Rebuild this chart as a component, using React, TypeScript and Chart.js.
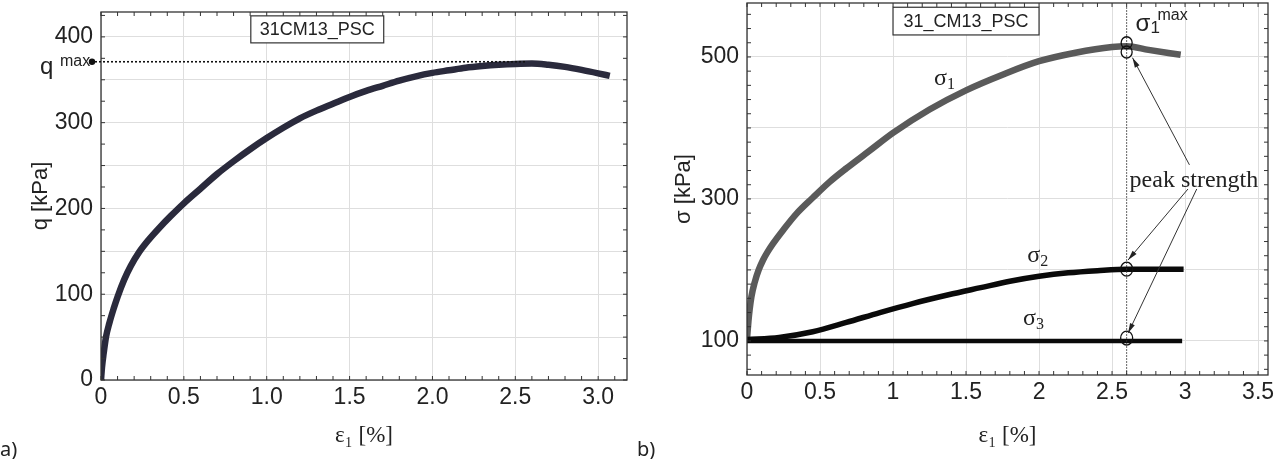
import React, { useEffect, useRef } from "react";
import { Chart, registerables } from "chart.js";

Chart.register(...registerables);

// a) deviator stress q against axial strain
const qStrain = [0, 0.006, 0.016, 0.03, 0.05, 0.076, 0.1, 0.14, 0.18, 0.23, 0.29, 0.35, 0.42, 0.5, 0.6, 0.7, 0.8, 0.9, 1.0, 1.1, 1.2, 1.3, 1.4, 1.5, 1.6, 1.7, 1.8, 1.9, 2.0, 2.1, 2.2, 2.3, 2.4, 2.5, 2.6, 2.7, 2.8, 2.9, 3.0, 3.07];
const qValues = [0, 15, 31, 50, 66, 83, 97, 117, 133, 149, 164, 177, 191, 206, 223, 240, 255, 269, 282, 294, 305, 314, 322, 330, 337, 343, 349, 354, 358, 361, 364, 366, 367.5, 368.5, 369, 367.5, 365, 361.5, 357.5, 354.5];
const qMax = 371;
const qMaxStrainEnd = 2.57;

// b) principal stresses against axial strain
const sig1Strain = [0, 0.01, 0.018, 0.03, 0.052, 0.08, 0.11, 0.14, 0.178, 0.247, 0.338, 0.452, 0.566, 0.68, 0.84, 1.0, 1.25, 1.5, 1.75, 2.0, 2.25, 2.5, 2.6, 2.75, 2.97];
const sig1Values = [103, 128, 144, 162, 182, 200, 214, 225, 237, 256, 279, 302, 324, 343, 368, 393, 426, 453, 475, 494, 506, 514, 515, 510, 503];
const sig2Strain = [0, 0.22, 0.45, 0.68, 0.91, 1.14, 1.38, 1.6, 1.8, 2.0, 2.2, 2.4, 2.6, 2.8, 2.99];
const sig2Values = [102, 105, 113, 126, 140, 153, 165, 175, 184, 191, 196, 199, 201, 201, 201];
const sig3Strain = [0, 1.0, 2.0, 2.98];
const sig3Values = [100, 100, 100, 100];
const peakStrain = 2.6;
const peakMarks = [520, 507, 201, 104];

// axes
const leftXTicks = [0, 0.5, 1.0, 1.5, 2.0, 2.5, 3.0];
const leftXLabels = ["0", "0.5", "1.0", "1.5", "2.0", "2.5", "3.0"];
const leftYGrid = [0, 50, 100, 150, 200, 250, 300, 350, 400];
const leftYLabels = [0, 100, 200, 300, 400];
const rightXTicks = [0, 0.5, 1, 1.5, 2, 2.5, 3, 3.5];
const rightXLabels = ["0", "0.5", "1", "1.5", "2", "2.5", "3", "3.5"];
const rightYGrid = [100, 200, 300, 400, 500];
const rightYLabels = [100, 300, 500];

const sans = "'Liberation Sans', Arial, sans-serif";
const serif = "'Liberation Serif', 'Times New Roman', serif";
const ink = "#222";

const pts = (xs: number[], ys: number[]) => xs.map((x, i) => ({ x, y: ys[i] }));

function arrow(ctx: CanvasRenderingContext2D, x0: number, y0: number, x1: number, y1: number) {
  ctx.beginPath();
  ctx.moveTo(x0, y0);
  ctx.lineTo(x1, y1);
  ctx.stroke();
  const a = Math.atan2(y1 - y0, x1 - x0);
  const len = 10, w = 2.6;
  const bx = x1 - len * Math.cos(a), by = y1 - len * Math.sin(a);
  ctx.beginPath();
  ctx.moveTo(x1, y1);
  ctx.lineTo(bx + w * Math.sin(a), by - w * Math.cos(a));
  ctx.lineTo(bx - w * Math.sin(a), by + w * Math.cos(a));
  ctx.closePath();
  ctx.fill();
}

// full box round the plot with small inward ticks
const framePlugin = (stepX: number, stepY: number) => ({
  id: "frame",
  afterDatasetsDraw(chart: any) {
    const { ctx, chartArea: a, scales } = chart;
    const sx = scales.x, sy = scales.y;
    ctx.save();
    ctx.strokeStyle = "#333";
    ctx.lineWidth = 1;
    ctx.beginPath();
    for (let v = 0; v <= sx.max + 1e-9; v += stepX) {
      const p = sx.getPixelForValue(v);
      ctx.moveTo(p, a.bottom); ctx.lineTo(p, a.bottom - 4);
      ctx.moveTo(p, a.top); ctx.lineTo(p, a.top + 4);
    }
    for (let v = Math.ceil(sy.min / stepY) * stepY; v <= sy.max; v += stepY) {
      const p = sy.getPixelForValue(v);
      ctx.moveTo(a.left, p); ctx.lineTo(a.left + 4, p);
      ctx.moveTo(a.right, p); ctx.lineTo(a.right - 4, p);
    }
    ctx.stroke();
    ctx.lineWidth = 1.3;
    ctx.strokeRect(a.left, a.top, a.right - a.left, a.bottom - a.top);
    ctx.restore();
  },
});

function labelBox(ctx: CanvasRenderingContext2D, x0: number, y0: number, x1: number, y1: number, text: string) {
  ctx.fillStyle = "#fff";
  ctx.fillRect(x0, y0, x1 - x0, y1 - y0);
  ctx.strokeStyle = "#333";
  ctx.lineWidth = 1.2;
  ctx.strokeRect(x0, y0, x1 - x0, y1 - y0);
  ctx.fillStyle = ink;
  ctx.font = `18px ${sans}`;
  ctx.textAlign = "center";
  ctx.textBaseline = "middle";
  ctx.fillText(text, (x0 + x1) / 2, (y0 + y1) / 2 + 1);
}

const leftNotes = {
  id: "leftNotes",
  afterDraw(chart: any) {
    const { ctx, chartArea: a, scales } = chart;
    const sx = scales.x, sy = scales.y;
    ctx.save();
    labelBox(ctx, sx.getPixelForValue(0.904), sy.getPixelForValue(424.5), sx.getPixelForValue(1.706), sy.getPixelForValue(393), "31CM13_PSC");
    const yq = sy.getPixelForValue(qMax);
    ctx.strokeStyle = "#111";
    ctx.lineWidth = 1.6;
    ctx.setLineDash([2, 2]);
    ctx.beginPath();
    ctx.moveTo(a.left - 6, yq);
    ctx.lineTo(sx.getPixelForValue(qMaxStrainEnd), yq);
    ctx.stroke();
    ctx.setLineDash([]);
    ctx.fillStyle = "#111";
    ctx.beginPath();
    ctx.arc(a.left - 9, yq, 3.2, 0, Math.PI * 2);
    ctx.fill();
    ctx.fillStyle = ink;
    ctx.textAlign = "left";
    ctx.textBaseline = "alphabetic";
    ctx.font = `24px ${sans}`;
    ctx.fillText("q", a.left - 61, yq + 12);
    ctx.font = `16px ${sans}`;
    ctx.fillText("max", a.left - 41, yq + 4);
    ctx.font = `20px 'Noto Sans', sans-serif`;
    ctx.fillText("a)", 0, 456);
    ctx.restore();
  },
};

const rightNotes = {
  id: "rightNotes",
  afterDraw(chart: any) {
    const { ctx, chartArea: a, scales } = chart;
    const sx = scales.x, sy = scales.y;
    const X = (v: number) => sx.getPixelForValue(v);
    const Y = (v: number) => sy.getPixelForValue(v);
    ctx.save();
    labelBox(ctx, X(1.0), Y(570), X(2.0), Y(531), "31_CM13_PSC");

    // peak line
    ctx.strokeStyle = "#333";
    ctx.lineWidth = 1;
    ctx.setLineDash([1.5, 1.5]);
    ctx.beginPath();
    ctx.moveTo(X(peakStrain), Y(570));
    ctx.lineTo(X(peakStrain), a.bottom);
    ctx.stroke();
    ctx.setLineDash([]);

    ctx.lineWidth = 1.3;
    ctx.strokeStyle = "#111";
    peakMarks.forEach((v, i) => {
      ctx.beginPath();
      ctx.ellipse(X(peakStrain), Y(v), i < 2 ? 5.5 : 6, i < 2 ? 6 : 7, 0, 0, Math.PI * 2);
      ctx.stroke();
    });

    ctx.fillStyle = ink;
    ctx.textAlign = "left";
    ctx.textBaseline = "alphabetic";
    // sigma_1 max
    const mx = X(2.66), my = Y(537);
    ctx.font = `24px ${sans}`;
    ctx.fillText("σ", mx, my);
    ctx.font = `17px ${sans}`;
    ctx.fillText("1", mx + 15, my + 2);
    ctx.font = `16px ${sans}`;
    ctx.fillText("max", mx + 22, my - 11);

    // curve names
    const sigma = (x: number, y: number, sub: string) => {
      ctx.font = `24px ${serif}`;
      ctx.fillText("σ", X(x), Y(y));
      ctx.font = `16px ${serif}`;
      ctx.fillText(sub, X(x) + 13, Y(y) + 4);
    };
    sigma(1.28, 460, "1");
    sigma(1.92, 211, "2");
    sigma(1.89, 122, "3");

    ctx.font = `24px ${serif}`;
    ctx.fillText("peak strength", X(2.62), Y(317));

    ctx.strokeStyle = "#333";
    ctx.fillStyle = "#222";
    ctx.lineWidth = 1;
    arrow(ctx, X(3.03), Y(348), X(2.64), Y(499));
    arrow(ctx, X(3.02), Y(314), X(2.61), Y(214));
    arrow(ctx, X(3.08), Y(314), X(2.61), Y(111));

    ctx.fillStyle = ink;
    ctx.font = `20px 'Noto Sans', sans-serif`;
    ctx.fillText("b)", 9, 456);
    ctx.restore();
  },
};

function xScale(max: number, ticks: number[], labels: string[], height: number) {
  return {
    type: "linear" as const,
    min: 0,
    max,
    afterBuildTicks: (s: any) => { s.ticks = ticks.map((value) => ({ value })); },
    afterFit: (s: any) => { s.height = height; s.paddingLeft = 0; s.paddingRight = 0; },
    ticks: { autoSkip: false, maxRotation: 0, font: { family: sans, size: 23 }, color: ink, padding: 4, callback: (_v: any, i: number) => labels[i] },
    grid: { color: "#dedede", lineWidth: 1, drawTicks: false },
    border: { display: false },
    title: { display: true, text: "ε₁ [%]", font: { family: serif, size: 23 }, color: ink, padding: { top: 0, bottom: 9 } },
  };
}

function yScale(min: number, max: number, grid: number[], labels: number[], width: number, title: string, titlePad: number) {
  return {
    type: "linear" as const,
    min,
    max,
    afterBuildTicks: (s: any) => { s.ticks = grid.map((value) => ({ value })); },
    afterFit: (s: any) => { s.width = width; s.paddingTop = 0; s.paddingBottom = 0; },
    ticks: { autoSkip: false, font: { family: sans, size: 23 }, color: ink, padding: 8, callback: (v: any) => (labels.includes(v) ? String(v) : "") },
    grid: { color: "#dedede", lineWidth: 1, drawTicks: false },
    border: { display: false },
    title: { display: true, text: title, font: { family: sans, size: 22 }, color: ink, padding: { top: titlePad, bottom: 0 } },
  };
}

const band = (data: any[], color: string, width: number) => ({
  data, borderColor: color, borderWidth: width, pointRadius: 0, cubicInterpolationMode: "monotone" as const, fill: false,
});
const speckle = (data: any[], color: string, width: number, dash: number[]) => ({
  data, borderColor: color, borderWidth: width, borderDash: dash, pointRadius: 0, cubicInterpolationMode: "monotone" as const, fill: false,
});

export default function App() {
  const leftRef = useRef<HTMLCanvasElement>(null);
  const rightRef = useRef<HTMLCanvasElement>(null);

  useEffect(() => {
    const qData = pts(qStrain, qValues);
    const left = new Chart(leftRef.current!, {
      type: "line",
      data: {
        datasets: [
          band(qData, "#2a2a3c", 6.5),
          speckle(qData, "#c4c4d4", 1.8, [1.2, 2.6]),
        ],
      },
      options: {
        responsive: false,
        animation: false,
        layout: { padding: { left: 0, right: 1, top: 12, bottom: 0 } },
        plugins: { legend: { display: false }, tooltip: { enabled: false } },
        scales: {
          x: xScale(3.174, leftXTicks, leftXLabels, 79),
          y: yScale(0, 429, leftYGrid, leftYLabels, 101, "q [kPa]", 28),
        },
      },
      plugins: [framePlugin(0.1, 25), leftNotes],
    });

    const s1 = pts(sig1Strain, sig1Values);
    const right = new Chart(rightRef.current!, {
      type: "line",
      data: {
        datasets: [
          band(pts(sig3Strain, sig3Values), "#0a0a0a", 4.5),
          band(pts(sig2Strain, sig2Values), "#0a0a0a", 5.5),
          band(s1, "#5a5a5a", 6.5),
          speckle(s1, "#e0e0e0", 2, [1.4, 2.4]),
        ],
      },
      options: {
        responsive: false,
        animation: false,
        layout: { padding: { left: 0, right: 12, top: 3, bottom: 0 } },
        plugins: { legend: { display: false }, tooltip: { enabled: false } },
        scales: {
          x: xScale(3.568, rightXTicks, rightXLabels, 84),
          y: yScale(52, 576, rightYGrid, rightYLabels, 119, "σ [kPa]", 43),
        },
      },
      plugins: [framePlugin(0.1, 20), rightNotes],
    });

    return () => {
      left.destroy();
      right.destroy();
    };
  }, []);

  return (
    <div style={{ position: "absolute", left: 0, top: 0, width: 1280, height: 459, background: "#fff" }}>
      <canvas ref={leftRef} width={628} height={459} style={{ position: "absolute", left: 0, top: 0 }} />
      <canvas ref={rightRef} width={652} height={459} style={{ position: "absolute", left: 628, top: 0 }} />
    </div>
  );
}
